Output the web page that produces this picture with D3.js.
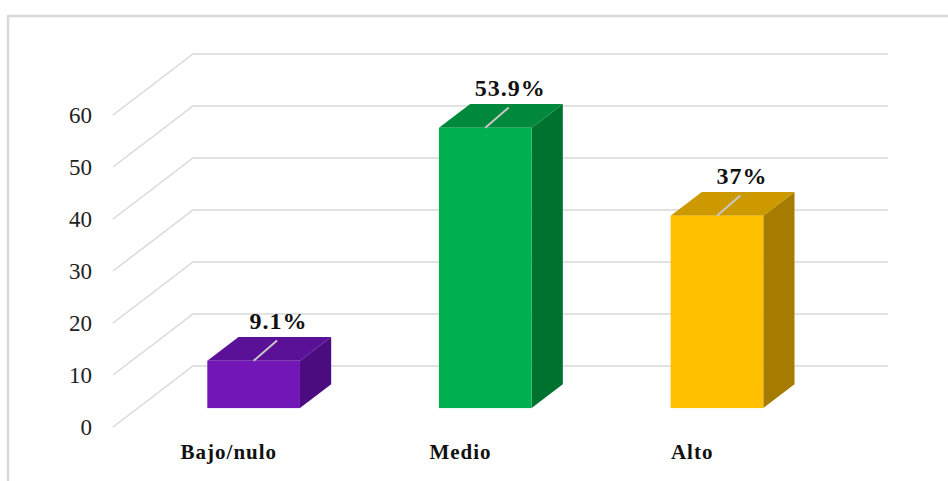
<!DOCTYPE html>
<html>
<head>
<meta charset="utf-8">
<script src="https://cdn.jsdelivr.net/npm/d3@7"></script>
<style>
  html, body { margin: 0; padding: 0; background: #fff; }
  svg { display: block; }
</style>
</head>
<body>
<svg id="chart" width="948" height="481"></svg>
<script>
// Chart data
const categories = ["Bajo/nulo", "Medio", "Alto"];
const values = [9.1, 53.9, 37];
const valueLabels = ["9.1%", "53.9%", "37%"];
const tickValues = [0, 10, 20, 30, 40, 50, 60];
const frontColors = ["#7216b8", "#00b050", "#ffc000"];
const topColors = ["#5a1097", "#00893d", "#cc9a00"];
const sideColors = ["#4a0c7e", "#00722f", "#a67c00"];

const svg = d3.select("#chart");

// Plot geometry: front plane of the floor and the 3D depth offset
const frontLeft = 113, frontRight = 808;
const depthX = 80, depthY = 61;
const barD0 = 0.31, barD1 = 0.70;   // bar position within the depth

const y = d3.scaleLinear().domain([0, 60]).range([427, 115]);
const x = d3.scaleBand().domain(categories)
  .range([frontLeft, frontRight])
  .paddingInner(0.6).paddingOuter(0.3);

const serif = "'Liberation Serif', 'Times New Roman', serif";

// outer frame
svg.append("path")
  .attr("d", "M8,481 L8,16 L948,16")
  .attr("fill", "none").attr("stroke", "#d9d9d9").attr("stroke-width", 2.5);

// gridlines: slanted side wall plus horizontal back wall
svg.append("g").selectAll("polyline").data(tickValues).join("polyline")
  .attr("points", t => [
    [frontLeft, y(t)],
    [frontLeft + depthX, y(t) - depthY],
    [frontRight + depthX, y(t) - depthY]
  ].map(p => p.join(",")).join(" "))
  .attr("fill", "none").attr("stroke", "#d9d9d9").attr("stroke-width", 1.5);

// y tick labels
svg.append("g").selectAll("text").data(tickValues).join("text")
  .attr("x", 92).attr("y", t => y(t))
  .attr("dy", "0.35em")
  .attr("text-anchor", "end")
  .attr("font-family", serif)
  .attr("font-size", 23)
  .attr("fill", "#222")
  .text(t => t);

// bars
const bars = categories.map((c, i) => {
  const x0 = x(c) + barD0 * depthX;
  const x1 = x0 + x.bandwidth();
  const yb = y(0) - barD0 * depthY;
  const yt = y(values[i]) - barD0 * depthY;
  const ddx = (barD1 - barD0) * depthX;
  const ddy = (barD1 - barD0) * depthY;
  return { c, i, x0, x1, yb, yt, ddx, ddy };
});

const gBars = svg.append("g");
bars.forEach(b => {
  const g = gBars.append("g");
  // right side face
  g.append("polygon")
    .attr("points", [[b.x1, b.yb], [b.x1, b.yt], [b.x1 + b.ddx, b.yt - b.ddy], [b.x1 + b.ddx, b.yb - b.ddy]].map(p => p.join(",")).join(" "))
    .attr("fill", sideColors[b.i]);
  // top face
  g.append("polygon")
    .attr("points", [[b.x0, b.yt], [b.x1, b.yt], [b.x1 + b.ddx, b.yt - b.ddy], [b.x0 + b.ddx, b.yt - b.ddy]].map(p => p.join(",")).join(" "))
    .attr("fill", topColors[b.i]);
  // front face
  g.append("rect")
    .attr("x", b.x0).attr("y", b.yt)
    .attr("width", b.x1 - b.x0).attr("height", b.yb - b.yt)
    .attr("fill", frontColors[b.i]);
  // leader line across the top
  const cx = (b.x0 + b.x1) / 2;
  g.append("line")
    .attr("x1", cx).attr("y1", b.yt)
    .attr("x2", cx + b.ddx * 0.75).attr("y2", b.yt - b.ddy * 0.85)
    .attr("stroke", "#c8c8c8").attr("stroke-width", 2);
  // value label
  g.append("text")
    .attr("x", cx + b.ddx * 0.8)
    .attr("y", b.yt - b.ddy - 8)
    .attr("text-anchor", "middle")
    .attr("font-family", serif)
    .attr("font-weight", "bold")
    .attr("font-size", 24)
    .attr("letter-spacing", 1)
    .attr("fill", "#111")
    .text(valueLabels[b.i]);
});

// category labels
svg.append("g").selectAll("text").data(categories).join("text")
  .attr("x", c => x(c) + x.bandwidth() / 2)
  .attr("y", 459)
  .attr("text-anchor", "middle")
  .attr("font-family", serif)
  .attr("font-weight", "bold")
  .attr("font-size", 21)
  .attr("letter-spacing", 1)
  .attr("fill", "#111")
  .text(c => c);
</script>
</body>
</html>
